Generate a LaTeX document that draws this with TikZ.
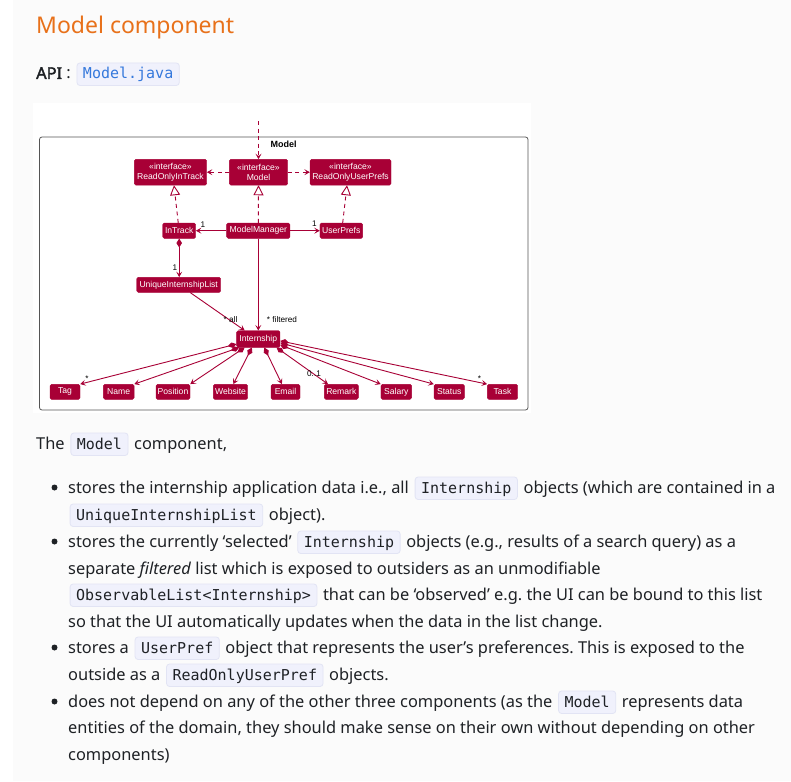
\documentclass[tikz,border=0pt]{standalone}
\usepackage{fontspec}
\setmainfont{Noto Sans}[AutoFakeBold=2.2]
\setmonofont{DejaVu Sans Mono}
\newfontfamily\umlfont{Liberation Sans}
\usetikzlibrary{arrows.meta,calc}

\definecolor{pred}{HTML}{A80036}
\definecolor{heading}{RGB}{232,113,26}
\definecolor{bodytext}{HTML}{1E2125}
\definecolor{codebg}{RGB}{240,241,252}
\definecolor{codeline}{RGB}{226,228,244}
\definecolor{codeblue}{RGB}{52,120,220}
\definecolor{pagebg}{RGB}{251,251,251}
\definecolor{framegray}{RGB}{85,85,85}

% inline code chip
\newcommand{\ic}[2][bodytext]{\hspace{1.5pt}\tikz[baseline=(chip.base)]\node(chip)[fill=codebg,draw=codeline,line width=0.8pt,rounded corners=3pt,inner xsep=6pt,inner ysep=4pt,text height=12pt,text depth=2.5pt,font=\fontsize{15}{15}\ttfamily,text=#1]{#2};\hspace{1.5pt}}

\tikzset{
  txt/.style={anchor=base west,inner sep=0pt,font=\fontsize{16.4}{20}\selectfont,text=bodytext},
  dot/.style={circle,fill=bodytext,inner sep=0pt,minimum size=6pt},
  cls/.style={fill=pred,draw=pred,rounded corners=1.5pt,text=white,inner sep=0pt,align=center,
    font=\umlfont\fontsize{8.6}{9.8}\selectfont},
  lbl/.style={inner sep=0pt,font=\umlfont\fontsize{8.2}{9}\selectfont,text=black},
  link/.style={draw=pred,line width=0.9pt},
  assoc/.style={link,-{Stealth[length=5.5pt,width=6pt,inset=2.5pt]}},
  depend/.style={link,dash pattern=on 4pt off 3.5pt,-{Stealth[length=5.5pt,width=6pt,inset=2.5pt]}},
  realize/.style={link,dash pattern=on 4pt off 3.5pt,-{Triangle[open,length=10pt,width=10pt,fill=white]}},
  compose/.style={link,{Diamond[length=9pt,width=5.5pt]}-{Stealth[length=5.5pt,width=6pt,inset=2.5pt]}},
}

\begin{document}
\begin{tikzpicture}[x=1pt,y=-1pt]
\useasboundingbox (0,0) rectangle (791,781);
\fill[pagebg] (0,0) rectangle (791,781);
\fill[white] (0,0) rectangle (13,781);
\fill[white] (33,103) rectangle (531,413);

% heading and API line
\node[anchor=base west,inner sep=0pt,font=\fontsize{23}{28}\selectfont,text=heading] (title) at (36,34) {Model component};
\node[txt] (api) at (36,79) {\textbf{API} : \ic[codeblue]{Model.java}};

% ---------------- class diagram ----------------
\node[draw=framegray,line width=0.8pt,rounded corners=2.5pt,minimum width=488.5pt,minimum height=273pt,inner sep=0pt] (pkg) at (283.75,273.5) {};
\node[inner sep=0pt,font=\umlfont\bfseries\fontsize{9}{10}\selectfont] (pkgname) at (283.5,144.3) {Model};

\node[cls,minimum width=72.4pt,minimum height=25.7pt] (roit) at (170.5,172.2) {«interface»\\ReadOnlyInTrack};
\node[cls,minimum width=58.4pt,minimum height=25.7pt] (model) at (258.5,172.2) {«interface»\\Model};
\node[cls,minimum width=81pt,minimum height=25.7pt] (roup) at (350.5,172.2) {«interface»\\ReadOnlyUserPrefs};

\node[cls,minimum width=33pt,minimum height=15.3pt] (intrack) at (179.2,230.7) {InTrack};
\node[cls,minimum width=63.3pt,minimum height=15.3pt] (mm) at (258.3,230.7) {ModelManager};
\node[cls,minimum width=42.7pt,minimum height=15.3pt] (up) at (341.3,230.7) {UserPrefs};

\node[cls,minimum width=84pt,minimum height=15pt] (uil) at (178.7,284.8) {UniqueInternshipList};
\node[cls,minimum width=43.3pt,minimum height=16.6pt] (internship) at (258.3,339) {Internship};

\foreach \n/\lab/\cx/\w in {tag/Tag/65/30, name/Name/118.7/30.7, position/Position/173/34,
    website/Website/230.5/34.4, email/Email/285.5/29, remark/Remark/341.3/34,
    salary/Salary/396.3/30.7, status/Status/449.2/30.3, task/Task/502.5/30.4}
  \node[cls,minimum width=\w pt,minimum height=15pt] (\n) at (\cx,391.8) {\lab};

\coordinate (entry) at (258.5,121);
\draw[depend] (entry) -- (model.north);
\draw[depend] (model.west) -- (roit.east);
\draw[depend] (model.east) -- (roup.west);

\draw[realize] (intrack.97) -- (roit.-75);
\draw[realize] (mm.north) -- (model.south);
\draw[realize] (up.80) -- (roup.-105);

\draw[assoc] (mm.west) -- (intrack.east);
\draw[assoc] (mm.east) -- (up.west);
\draw[compose] (intrack.south) -- (intrack.south |- uil.north);
\draw[assoc] (uil.-34) -- (internship.148);
\draw[assoc] (mm.south) -- (internship.north);

\draw[compose] (internship.193) -- (tag.north east);
\draw[compose] (internship.204) -- (name.north east);
\draw[compose] (internship.212) -- (position.north east);
\draw[compose] (internship.233) -- (website.70);
\draw[compose] (internship.-55) -- (email.115);
\draw[compose] (internship.-25) -- (remark.150);
\draw[compose] (internship.-15) -- (salary.north west);
\draw[compose] (internship.-10) -- (status.north west);
\draw[compose] (internship.-5) -- (task.north west);

\node[lbl] (m1) at (203,225) {1};
\node[lbl] (m2) at (314.3,224) {1};
\node[lbl] (m3) at (175,267.5) {1};
\node[lbl] (mall) at (230.5,320) {* all};
\node[lbl] (mfilt) at (282,320) {* filtered};
\node[lbl] (mtag) at (87,378.5) {*};
\node[lbl] (mrem) at (314,374) {0..1};
\node[lbl] (mtask) at (479.5,378.5) {*};

% ---------------- description ----------------
\frenchspacing
\node[txt] (intro) at (36,449) {The \ic{Model} component,};

\node[dot] (d1) at (54.5,487.5) {};
\node[txt] (b1a) at (68,493) {stores the internship application data i.e., all \ic{Internship} objects (which are contained in a};
\node[txt] (b1b) at (68,520) {\ic{UniqueInternshipList} object).};

\node[dot] (d2) at (54.5,541.5) {};
\node[txt] (b2a) at (68,547) {stores the currently ‘selected’ \ic{Internship} objects (e.g., results of a search query) as a};
\node[txt] (b2b) at (68,574) {separate \textit{filtered} list which is exposed to outsiders as an unmodifiable};
\node[txt] (b2c) at (68,600) {\ic{ObservableList<Internship>} that can be ‘observed’ e.g. the UI can be bound to this list};
\node[txt] (b2d) at (68,627) {so that the UI automatically updates when the data in the list change.};

\node[dot] (d3) at (54.5,647.5) {};
\node[txt] (b3a) at (68,653) {stores a \ic{UserPref} object that represents the user’s preferences. This is exposed to the};
\node[txt] (b3b) at (68,680) {outside as a \ic{ReadOnlyUserPref} objects.};

\node[dot] (d4) at (54.5,701.5) {};
\node[txt] (b4a) at (68,707) {does not depend on any of the other three components (as the \ic{Model} represents data};
\node[txt] (b4b) at (68,733) {entities of the domain, they should make sense on their own without depending on other};
\node[txt] (b4c) at (68,760) {components)};
\end{tikzpicture}
\end{document}
